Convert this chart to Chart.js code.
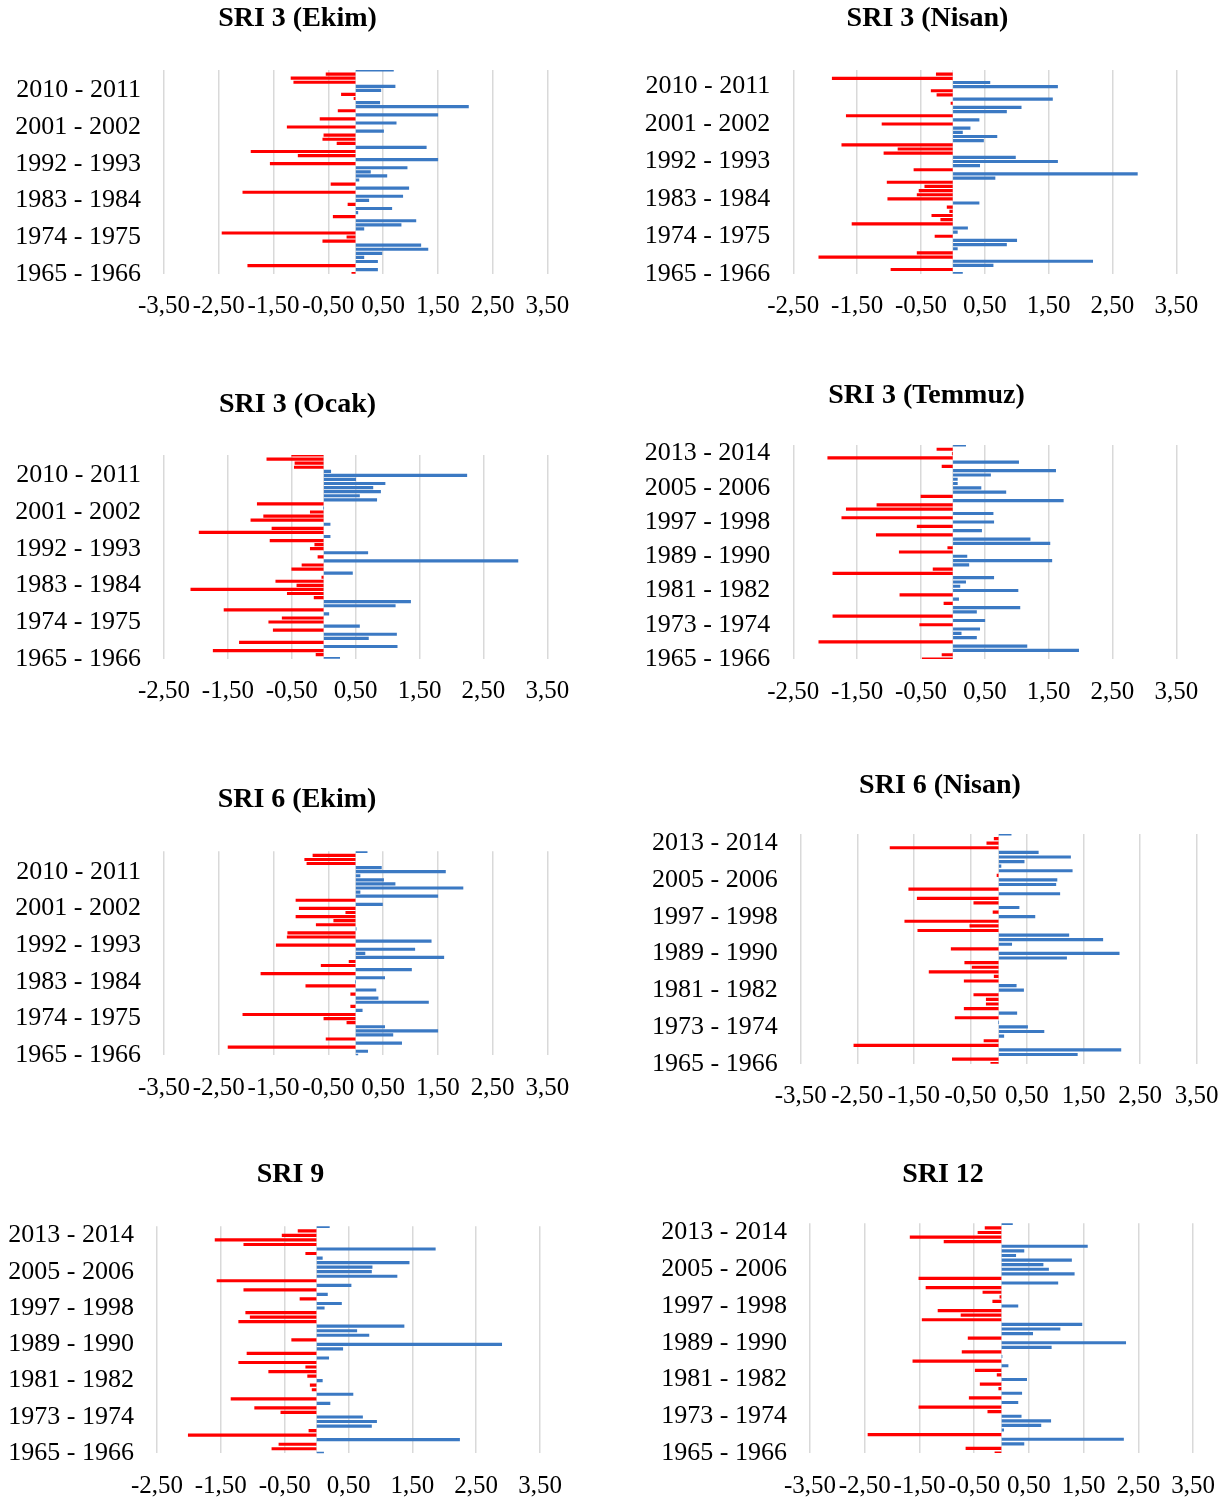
<!DOCTYPE html>
<html>
<head>
<meta charset="utf-8">
<title>SRI</title>
<script src="https://cdn.jsdelivr.net/npm/chart.js@4.4.0/dist/chart.umd.min.js"></script>
<style>
  body { margin: 0; background: #fff; overflow: hidden; }
  #page { position: relative; width: 1226px; height: 1499px; overflow: hidden; }
  .panel { position: absolute; }
</style>
</head>
<body>
<div id="page"></div>
<script>
// hydrological years, oldest first (bottom of each chart)
const years = [
  '1965 - 1966', '1966 - 1967', '1967 - 1968', '1968 - 1969', '1969 - 1970',
  '1970 - 1971', '1971 - 1972', '1972 - 1973', '1973 - 1974', '1974 - 1975',
  '1975 - 1976', '1976 - 1977', '1977 - 1978', '1978 - 1979', '1979 - 1980',
  '1980 - 1981', '1981 - 1982', '1982 - 1983', '1983 - 1984', '1984 - 1985',
  '1985 - 1986', '1986 - 1987', '1987 - 1988', '1988 - 1989', '1989 - 1990',
  '1990 - 1991', '1991 - 1992', '1992 - 1993', '1993 - 1994', '1994 - 1995',
  '1995 - 1996', '1996 - 1997', '1997 - 1998', '1998 - 1999', '1999 - 2000',
  '2000 - 2001', '2001 - 2002', '2002 - 2003', '2003 - 2004', '2004 - 2005',
  '2005 - 2006', '2006 - 2007', '2007 - 2008', '2008 - 2009', '2009 - 2010',
  '2010 - 2011', '2011 - 2012', '2012 - 2013', '2013 - 2014', '2014 - 2015',
  '2015 - 2016'
];

const sri3Ekim = [-0.07, 0.40, -1.97, 0.40, 0.15, 0.48, 1.32, 1.19, -0.60, -0.16,
  -2.44, 0.15, 0.83, 1.10, -0.41, 0.04, 0.66, -0.14, 0.24, 0.86,
  -2.06, 0.97, -0.45, 0.06, 0.57, 0.27, 0.94, -1.56, 1.50, -1.05,
  -1.91, 1.29, -0.34, -0.60, -0.58, 0.51, -1.25, 0.74, -0.65, 1.50,
  -0.32, 2.06, 0.44, -0.03, -0.26, 0.46, 0.72, -1.13, -1.18, -0.54, 0.69];

const sri3Nisan = [0.15, -0.97, 0.63, 2.19, -2.10, -0.56, 0.07, 0.84, 1.00, -0.28,
  0.07, 0.23, -1.58, -0.19, -0.33, -0.05, -0.09, 0.41, -1.02, -0.56,
  -0.53, -0.44, -1.03, 0.66, 2.89, -0.61, 0.42, 1.64, 0.98, -1.08,
  -0.86, -1.74, 0.48, 0.69, 0.15, 0.27, -1.11, 0.41, -1.67, 0.84,
  1.07, -0.03, 1.56, -0.25, -0.34, 1.64, 0.58, -1.89, -0.26, null];

const sri3Ocak = [0.25, -0.12, -1.73, 1.15, -1.32, 0.70, 1.14, -0.79, 0.56, -0.86,
  -0.65, 0.08, -1.56, 1.12, 1.36, -0.15, -0.57, -2.08, -0.42, -0.75,
  -0.03, 0.45, -0.50, -0.34, 3.04, -0.09, 0.69, -0.21, -0.14, -0.84,
  0.10, -1.95, -0.81, 0.10, -1.14, -0.94, -0.21, 0, -1.04, 0.83,
  0.56, 0.89, 0.77, 0.96, 0.50, 2.24, 0.11, -0.46, -0.45, -0.89, -0.50];

const sri3Temmuz = [-0.48, -0.17, 1.97, 1.16, -2.10, 0.37, 0.13, 0.42, -0.52, 0.50,
  -1.88, 0.37, 1.05, -0.14, 0.09, -0.83, 1.02, 0.11, 0.20, 0.64,
  -1.88, -0.31, 0.25, 1.55, 0.22, -0.84, -0.08, 1.52, 1.21, -1.20,
  0.45, -0.56, 0.64, -1.74, 0.63, -1.67, -1.19, 1.73, -0.50, 0.83,
  0.44, 0.07, 0.07, 0.59, 1.61, -0.17, 1.03, -1.96, -0.01, -0.25, 0.20];

const sri6Ekim = [0.04, 0.22, -2.33, 0.84, -0.54, 0.68, 1.50, 0.53, -0.16, -0.58,
  -2.06, 0.12, -0.09, 1.33, 0.41, -0.09, 0.37, -0.91, 0, 0.53,
  -1.73, 1.02, -0.63, -0.12, 1.61, 0.17, 1.08, -1.45, 1.38, -1.25,
  -1.24, 0.01, -0.72, -0.40, -1.09, -0.18, -1.03, 0.49, -1.09, 1.50,
  0.08, 1.96, 0.72, 0.51, 0.08, 1.64, 0.47, -0.89, -0.93, -0.78, 0.21];

const sri6Nisan = [-0.14, -0.82, 1.39, 2.16, -2.56, -0.26, 0.09, 0.80, 0.51, 0,
  -0.77, 0.32, -0.61, -0.22, -0.22, -0.44, 0.44, 0.31, -0.61, -0.08,
  -1.23, -0.47, -0.60, 1.20, 2.13, -0.84, 0.23, 1.84, 1.24, -1.43,
  -0.51, -1.66, 0.64, -0.10, 0.36, -0.44, -1.44, 1.08, -1.59, 1.01,
  1.03, -0.03, 1.30, 0.04, 0.45, 1.27, 0.70, -1.92, -0.21, -0.08, 0.22];

const sri9 = [0.11, -0.70, -0.59, 2.24, -2.01, -0.12, 0.86, 0.94, 0.72, -0.56,
  -0.97, 0.21, -1.34, 0.57, -0.07, -0.10, 0.09, -0.14, -0.75, -0.17,
  -1.22, 0.19, -1.09, 0.41, 2.90, -0.39, 0.82, 0.63, 1.37, -1.22,
  -1.04, -1.11, 0.12, 0.39, -0.26, 0.17, -1.14, 0.54, -1.56, 1.26,
  0.86, 0.87, 1.45, 0.09, -0.17, 1.86, -1.14, -1.59, -0.54, -0.29, 0.20];

const sri12 = [-0.12, -0.65, 0.41, 2.23, -2.44, 0.04, 0.72, 0.90, 0.36, -0.25,
  -1.51, 0.30, -0.59, 0.37, -0.05, -0.39, 0.46, -0.08, -0.48, 0.12,
  -1.62, 0.01, -0.72, 0.91, 2.27, -0.61, 0.57, 1.07, 1.47, -1.45,
  -0.74, -1.16, 0.30, -0.16, -0.03, -0.34, -1.38, 1.03, -1.51, 1.33,
  0.86, 0.76, 1.28, 0.26, 0.41, 1.57, -1.05, -1.67, -0.43, -0.30, 0.20];

const titles = ['SRI 3 (Ekim)', 'SRI 3 (Nisan)', 'SRI 3 (Ocak)', 'SRI 3 (Temmuz)',
                'SRI 6 (Ekim)', 'SRI 6 (Nisan)', 'SRI 9', 'SRI 12'];
const series = [sri3Ekim, sri3Nisan, sri3Ocak, sri3Temmuz, sri6Ekim, sri6Nisan, sri9, sri12];
const axisMin = [-3.5, -2.5, -2.5, -2.5, -3.5, -3.5, -2.5, -3.5];
const axisMax = 3.5;
const labelStep = [9, 9, 9, 8, 9, 8, 8, 8];

// where each little chart sits on the page (canvas left edge, title centre, plot box)
const boxes = [
  { left: 0,   titleX: 297.5, titleY: 18.5, plotLeft: 164,   plotRight: 547.3,  plotTop: 70,     plotBottom: 273.7 },
  { left: 630, titleX: 927.5, titleY: 18.5, plotLeft: 793.3, plotRight: 1176.3, plotTop: 70,     plotBottom: 273.7 },
  { left: 0,   titleX: 297.5, titleY: 405,  plotLeft: 164,   plotRight: 547.3,  plotTop: 455,    plotBottom: 658.7 },
  { left: 630, titleX: 926.5, titleY: 396,  plotLeft: 793.3, plotRight: 1176.3, plotTop: 445,    plotBottom: 659 },
  { left: 0,   titleX: 297,   titleY: 800,  plotLeft: 164,   plotRight: 547.3,  plotTop: 851.3,  plotBottom: 1055.3 },
  { left: 640, titleX: 940,   titleY: 786,  plotLeft: 800.7, plotRight: 1196.7, plotTop: 834,    plotBottom: 1063.7 },
  { left: 0,   titleX: 290.5, titleY: 1175, plotLeft: 157,   plotRight: 540,    plotTop: 1226.3, plotBottom: 1453.3 },
  { left: 650, titleX: 943,   titleY: 1175, plotLeft: 810,   plotRight: 1193,   plotTop: 1223.3, plotBottom: 1453 }
];

const RED = '#ff0000';
const BLUE = '#3b79c3';
const GRID = '#d9d9d9';
const TITLE_SIZE = 28;
const TITLE_LH = TITLE_SIZE * 1.2;

Chart.defaults.font.family = "'Times New Roman', 'Liberation Serif', serif";
Chart.defaults.color = '#000';

function fmt(v) {
  return v.toFixed(2).replace('.', ',');
}

const page = document.getElementById('page');

series.forEach((values, i) => {
  const b = boxes[i];
  const top = Math.round(b.titleY - TITLE_LH / 2);
  const height = Math.round(b.plotBottom - top + 52);
  const xh = height - (b.plotBottom - top);
  // canvas is as wide as needed for the title to sit centred at titleX
  const width = Math.round(2 * (b.titleX - b.left));
  const yw = b.plotLeft - b.left;
  const rw = b.left + width - b.plotRight;
  const step = labelStep[i];

  const div = document.createElement('div');
  div.className = 'panel';
  div.style.left = b.left + 'px';
  div.style.top = top + 'px';
  div.style.width = width + 'px';
  div.style.height = height + 'px';
  const cv = document.createElement('canvas');
  div.appendChild(cv);
  page.appendChild(div);

  new Chart(cv, {
    type: 'bar',
    data: {
      labels: years.slice(0, values.length),
      datasets: [{
        data: values,
        backgroundColor: values.map(v => v < 0 ? RED : BLUE),
        barThickness: 2.5
      }]
    },
    options: {
      indexAxis: 'y',
      responsive: true,
      maintainAspectRatio: false,
      animation: false,
      layout: { padding: 0 },
      plugins: {
        legend: { display: false },
        tooltip: { enabled: false },
        title: {
          display: true,
          text: titles[i],
          color: '#000',
          font: { size: TITLE_SIZE, weight: 'bold' },
          padding: { top: 0, bottom: b.plotTop - top - TITLE_LH }
        }
      },
      scales: {
        x: {
          type: 'linear',
          min: axisMin[i],
          max: axisMax,
          afterBuildTicks: s => { s.ticks.push({ value: 0 }); },
          afterFit: s => { s.height = xh; },
          ticks: {
            stepSize: 1,
            autoSkip: false,
            maxRotation: 0,
            minRotation: 0,
            padding: 18,
            font: { size: 25 },
            callback: v => v === 0 ? '' : fmt(v)
          },
          grid: {
            drawTicks: false,
            color: c => (c.tick && c.tick.value === 0) ? '#e3e3e3' : GRID,
            lineWidth: c => (c.tick && c.tick.value === 0) ? 1 : 1.5
          },
          border: { display: false }
        },
        y: {
          reverse: true,
          offset: false,
          afterFit: s => { s.width = yw; },
          ticks: {
            autoSkip: false,
            padding: 23,
            font: { size: 26 },
            callback: function (v, idx) {
              return idx % step === 0 ? this.getLabelForValue(v) : '';
            }
          },
          grid: { display: false, drawTicks: false },
          border: { display: false }
        },
        // empty strip on the right so the title centre matches the original
        side: {
          type: 'linear',
          axis: 'y',
          position: 'right',
          afterFit: s => { s.width = rw; },
          ticks: { display: false },
          grid: { display: false },
          border: { display: false }
        }
      }
    }
  });
});
</script>
</body>
</html>
